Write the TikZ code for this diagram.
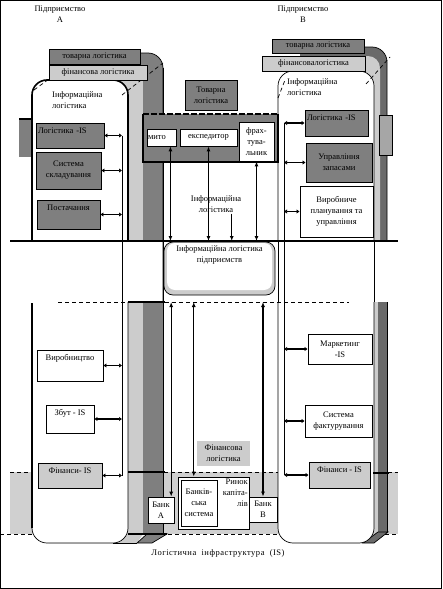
\documentclass[tikz,border=0pt]{standalone}
\usepackage{fontspec}
\setmainfont{Liberation Serif}
\usetikzlibrary{arrows.meta,calc}
\definecolor{dg}{HTML}{7F7F7F}
\definecolor{dgb}{HTML}{6A6A6A}
\definecolor{lg}{HTML}{CCCCCC}
\definecolor{bandg}{HTML}{D0D0D0}
\definecolor{mg}{HTML}{A6A6A6}
\begin{document}
\begin{tikzpicture}[x=1pt,y=-1pt,
  every node/.style={font=\fontsize{8.5}{11}\selectfont, inner sep=1pt},
  bx/.style={draw=black, line width=0.8pt, anchor=center, align=center},
  dbox/.style={bx, fill=dg},
  lbox/.style={bx, fill=lg},
  wbox/.style={bx, fill=white},
  topt/.style={text height=8pt, text depth=#1},
  hcon/.style={line width=1.6pt, {Latex[length=3pt,width=4.5pt]}-{Latex[length=3pt,width=4.5pt]}},
  vcon/.style={line width=1.1pt, {Latex[length=5pt,width=4pt]}-{Latex[length=5pt,width=4pt]}},
  thk/.style={line width=1.6pt},
  dsh/.style={dash pattern=on 4pt off 3pt, line width=0.7pt},
  thn/.style={line width=0.7pt},
]
\useasboundingbox (0,0) rectangle (442,589);
\fill[white] (0,0) rectangle (442,589);

% ---------- grey band of the logistic infrastructure ----------
\fill[bandg] (10,472) rectangle (398,534);
\draw[dsh] (10,472) -- (398,472);
\draw[dsh] (0,534) -- (398,534);

% ---------- enterprise A, upper part ----------
\fill[dg] (19,119) rectangle (32,157);
\draw[thk] (19,119) -- (32,119);
\fill[dg] (49,53) -- (148,53) .. controls (156.3,53) and (163,59.7) .. (163,68) -- (163,241) -- (49,241) -- cycle;
\draw[thn] (140,53) -- (148,53) .. controls (156.3,53) and (163,59.7) .. (163,68) -- (163,534);
\fill[lg] (49,65) rectangle (143,241);
\fill[white] (32,241) -- (32,95) .. controls (32,86.7) and (38.7,80) .. (47,80) -- (113,80) .. controls (121.3,80) and (128,86.7) .. (128,95) -- (128,241) -- cycle;
\draw[thk] (32,241) -- (32,95) .. controls (32,86.7) and (38.7,80) .. (47,80) -- (113,80) .. controls (121.3,80) and (128,86.7) .. (128,95) -- (128,241);
\draw[dsh] (122,95) -- (163,63);
\draw[dsh] (34,90) -- (49,79);

% ---------- enterprise A, lower part ----------
\fill[lg] (49,302) -- (143,302) -- (143,534) -- (137,543) -- (49,543) -- cycle;
\fill[dg] (143,302) rectangle (163,534);
\filldraw[fill=dg, thn] (147,534) -- (167,534) -- (152,543) -- (137,543) -- cycle;
\fill[white] (32,302) -- (32,528) .. controls (32,536.3) and (38.7,543) .. (47,543) -- (113,543) .. controls (121.3,543) and (128,536.3) .. (128,528) -- (128,302) -- cycle;
\draw[thk] (32,303) -- (32,528);
\draw[thn] (32,528) .. controls (32,536.3) and (38.7,543) .. (47,543) -- (113,543) .. controls (121.3,543) and (128,536.3) .. (128,528) -- (128,302);
\draw[thn] (113,543) -- (137,543);
\draw[thk] (128,302) -- (165,302);
\draw[thk] (128,472) -- (165,472);
\draw[thk] (128,534) -- (167,534);
\draw[thn] (163,68) -- (163,534);

% ---------- enterprise B, upper part ----------
\fill[dgb] (300,47) -- (372,47) .. controls (380.3,47) and (387,53.7) .. (387,62) -- (387,241) -- (300,241) -- cycle;
\draw[thn] (362,47) -- (372,47) .. controls (380.3,47) and (387,53.7) .. (387,62) -- (387,241);
\fill[lg] (300,56) -- (368,56) .. controls (374.6,56) and (380,61.4) .. (380,68) -- (380,241) -- (300,241) -- cycle;
\filldraw[fill=white, thn] (278,241) -- (278,86) .. controls (278,77.7) and (284.7,71) .. (293,71) -- (359,71) .. controls (367.3,71) and (374,77.7) .. (374,86) -- (374,241);
\filldraw[fill=mg, thn] (379,115) rectangle (392,155);
\draw[dsh] (366,84) -- (390,57);
\draw[dsh] (278,98) -- (285,80);

% ---------- enterprise B, lower part ----------
\fill[lg] (300,302) -- (378,302) -- (378,532) -- (366,543) -- (300,543) -- cycle;
\fill[dgb] (378,302) rectangle (387,532);
\filldraw[fill=dgb, thn] (378,532) -- (388,532) -- (374,543) -- (363,543) -- cycle;
\filldraw[fill=white, thn] (278,302) -- (278,528) .. controls (278,536.3) and (284.7,543) .. (293,543) -- (359,543) .. controls (367.3,543) and (374,536.3) .. (374,528) -- (374,302);
\draw[thn] (387,302) -- (387,532);
\draw[thk] (373,473) -- (389,473);
\draw[thn] (278,241) -- (278,302);
\draw[thn] (374,241) -- (374,302);

% ---------- dashed and solid separators ----------
\coordinate (dL) at (58,302);
\coordinate (dR) at (349,302);
\draw[dsh] (dL) -- (128,302);
\draw[dsh] (165,302) -- (dR);

% ---------- headers ----------
\node[align=center] (hA) at (60,14) {Підприємство\\А};
\node[align=center] (hB) at (303,14) {Підприємство\\В};

% ---------- boxes of A ----------
\node[dbox, minimum width=91pt, minimum height=15pt] (tovA) at (94.5,56.5) {товарна логістика};
\node[lbox, minimum width=98pt, minimum height=15pt] (finA) at (98,72.5) {фінансова логістика};
\node[anchor=north west, align=left] (infA) at (51,90) {Інформаційна\\логістика};
\node[dbox, minimum width=68pt, minimum height=25pt, text width=64pt, align=left, topt=13pt] (logA) at (70,135.5) {Логістика -IS};
\node[dbox, minimum width=65pt, minimum height=37pt] (sklA) at (68.5,170.5) {Система\\складування};
\node[dbox, minimum width=63pt, minimum height=29pt, topt=17pt] (postA) at (68.5,214.5) {Постачання};
\node[wbox, minimum width=66pt, minimum height=31pt, topt=19pt] (virA) at (70,365.5) {Виробництво};
\node[wbox, minimum width=48pt, minimum height=28pt, topt=16pt] (zbutA) at (70,419) {Збут - IS};
\node[lbox, minimum width=64pt, minimum height=25pt, topt=13pt] (finIsA) at (70,475.5) {Фінанси- IS};

% ---------- boxes of B ----------
\node[dbox, minimum width=92pt, minimum height=14pt] (tovB) at (318,46) {товарна логістика};
\node[lbox, minimum width=103pt, minimum height=15pt] (finB) at (313.5,63.5) {фінансовалогістика};
\node[anchor=north west, align=left] (infB) at (286,77) {Інформаційна\\логістика};
\node[dbox, minimum width=63pt, minimum height=26pt, text width=59pt, align=left, topt=14pt] (logB) at (336.5,123) {Логістика -IS};
\node[dbox, minimum width=66pt, minimum height=39pt] (upzB) at (339,162.5) {Управління\\запасами};
\node[wbox, minimum width=73pt, minimum height=51pt] (virB) at (336.5,211.5) {Виробниче\\планування та\\управління};
\node[wbox, minimum width=64pt, minimum height=30pt] (markB) at (340,349) {Маркетинг\\-IS};
\node[wbox, minimum width=67pt, minimum height=32pt] (factB) at (338.5,421) {Система\\фактурування};
\node[lbox, minimum width=61pt, minimum height=26pt, topt=14pt] (finIsB) at (339.5,475) {Фінанси - IS};

% ---------- centre ----------
\node[dbox, minimum width=52pt, minimum height=30pt] (tovC) at (211,95) {Товарна\\логістика};
\node[fill=dg, minimum width=135pt, minimum height=48pt] (bigC) at (210.5,138) {};
\draw[line width=2pt] (bigC.north west) -- (bigC.south west) -- (bigC.south east) -- (bigC.north east);
\draw[line width=2pt, dash pattern=on 6pt off 2pt] (bigC.north west) -- (bigC.north east);
\node[wbox, minimum width=29pt, minimum height=17pt, text width=27pt, align=left] (mito) at (161.5,137.5) {мито};
\node[wbox, minimum width=57pt, minimum height=17pt] (eksp) at (208.5,137.5) {експедитор};
\node[wbox, minimum width=35pt, minimum height=39pt] (frakh) at (256.5,141.5) {фрах-\\тува-\\льник};
\node[align=center] (infoC) at (216,204) {Інформаційна\\логістика};

\fill[lg, rounded corners=9pt] (164,242) rectangle (275,295);
\node[draw=black, thn, rounded corners=9pt, minimum width=111pt, minimum height=53pt] (ilp) at (219.5,268.5) {};
\fill[white, rounded corners=8pt] (167,243) rectangle (272,290);
\node[anchor=north, align=center] (ilpT) at ($(ilp.north)+(0,3)$) {Інформаційна логістика\\підприємств};

\node[fill=lg, minimum width=53pt, minimum height=25pt, align=center] (finLogC) at (223.5,453.5) {Фінансова\\логістика};
\node[wbox, minimum width=71pt, minimum height=52pt] (outerBS) at (213.5,503) {};
\node[wbox, minimum width=36pt, minimum height=46pt] (bankSys) at (199,503) {Банків-\\ська\\система};
\node[anchor=north east, align=right] (rynok) at (249,478) {Ринок\\капіта-\\лів};
\node[wbox, minimum width=26pt, minimum height=26pt] (bankA) at (161,510) {Банк\\А};
\node[wbox, minimum width=28pt, minimum height=25pt] (bankB) at (263,509.5) {Банк\\В};

\node (infra) at (218,553) {\addfontfeature{LetterSpace=6}Логістична\ \ інфраструктура\ \ (IS)};

% ---------- main horizontal line ----------
\coordinate (hL) at (10,241);
\coordinate (hR) at (398,241);
\draw[line width=1.8pt] (hL) -- (hR);

% ---------- buses and connectors A ----------
\coordinate (bA) at (122,0);
\draw[thn] (logA.east -| bA) -- (finIsA.east -| bA);
\foreach \n in {logA,sklA,postA,virA,zbutA,finIsA}{
  \draw[hcon] (\n.east) -- (\n.east -| bA);
}
% ---------- buses and connectors B ----------
\coordinate (bB) at (284,0);
\draw[thn] (logB.west -| bB) -- (finIsB.west -| bB);
\foreach \n in {logB,upzB,virB,markB,factB,finIsB}{
  \draw[hcon] (\n.west -| bB) -- (\n.west);
}

% ---------- vertical arrows ----------
\draw[vcon] ($(mito.south west)!0.8!(mito.south east)$) coordinate (m1) -- (m1 |- hL);
\draw[vcon] (eksp.south) -- (eksp.south |- hL);
\draw[vcon] (frakh.south) -- (frakh.south |- hL);
\draw[line width=1.1pt, -{Latex[length=5pt,width=4pt]}] ($(infoC.south)!0.6!(infoC.south east)$) coordinate (i1) -- (i1 |- hL);
\draw[vcon] ($(bankA.north west)!0.88!(bankA.north east)$) coordinate (a1) -- (a1 |- dL);
\draw[vcon] ($(outerBS.north west)!0.225!(outerBS.north east)$) coordinate (a2) -- (a2 |- dL);
\draw[vcon] (bankB.north) -- (bankB.north |- dL);

% ---------- frame ----------
\draw[line width=1pt] (0.5,0.5) rectangle (441.5,588.5);
\end{tikzpicture}
\end{document}
